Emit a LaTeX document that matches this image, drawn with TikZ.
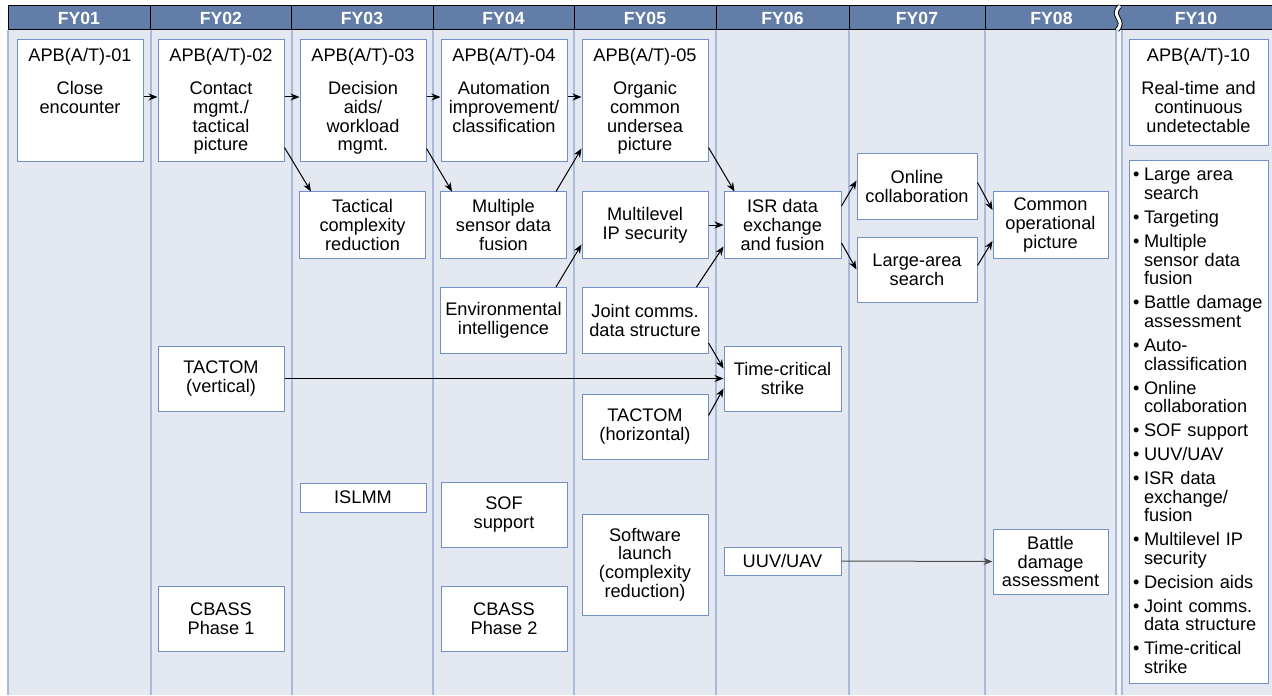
\documentclass[tikz,border=0pt]{standalone}
\usepackage{fontspec}
\setmainfont{Liberation Sans}
\usetikzlibrary{arrows.meta}
\definecolor{hdrblue}{HTML}{627DA8}
\definecolor{bgblue}{HTML}{E4E8F1}
\definecolor{lineblue}{HTML}{A9BADA}
\definecolor{boxblue}{HTML}{7090C6}
\newcommand{\listitem}[1]{\hangindent=5.5pt\hangafter=1\noindent\makebox[5.5pt][l]{\textbullet}#1\par\vspace{2.6pt}}
\newcommand{\nl}{\hfill\break}
\begin{document}
\begin{tikzpicture}[x=0.5pt,y=-0.5pt,
  every node/.style={font=\fontsize{9.1}{9.35}\selectfont},
  box/.style={draw=boxblue,fill=white,line width=0.5pt,align=center,inner sep=0pt,minimum width=63pt,minimum height=33pt},
  apb/.style={box,text width=63pt,text height=11pt,text depth=50pt},
  hdr/.style={text=white,font=\fontsize{8.8}{9}\selectfont\bfseries},
  arr/.style={-{Stealth[length=4.5pt,width=3.5pt]},line width=0.5pt}]
\useasboundingbox (0,0) rectangle (1272,695);
% background and year columns
\fill[bgblue] (8,30) rectangle (1272,695);
\fill[white!55!bgblue] (1116,30) rectangle (1122,695);
\foreach \x in {8,151,292,433,574,716,849,985,1116,1122}
  \draw[lineblue,line width=0.6pt] (\x,30) -- (\x,695);
% header
\draw[fill=hdrblue,line width=0.5pt] (8,6) rectangle (1272,30);
\foreach \x in {150,291.5,433,574,716,849,985}
  \draw[line width=0.5pt] (\x,6) -- (\x,30);
\draw[line width=2.4pt] (1120,6) .. controls (1109,16) and (1127,20) .. (1117,30);
\draw[white,line width=1.5pt] (1120,6) .. controls (1109,16) and (1127,20) .. (1117,30);
\foreach \x/\yr in {79/01,221/02,362/03,503.5/04,645/05,782.5/06,917/07,1051.5/08,1196/10}
  \node[hdr] (fy\yr) at (\x,18) {FY\yr};
% top row
\node[apb] (apb01) at (80,101) {APB(A/T)-01\\[7pt]Close\\encounter};
\node[apb] (apb02) at (221,101) {APB(A/T)-02\\[7pt]Contact\\mgmt./\\tactical\\picture};
\node[apb] (apb03) at (363,101) {APB(A/T)-03\\[7pt]Decision\\aids/\\workload\\mgmt.};
\node[apb] (apb04) at (504,101) {APB(A/T)-04\\[7pt]Automation\\improvement/\\classification};
\node[apb] (apb05) at (645,101) {APB(A/T)-05\\[7pt]Organic\\common\\undersea\\picture};
\node[apb,text width=69.5pt,text depth=42pt] (apb10) at (1198.5,93) {APB(A/T)-10\\[7pt]Real-time and\\continuous\\undetectable};
% middle rows
\node[box] (tcr) at (362.5,225) {Tactical\\complexity\\reduction};
\node[box] (msdf) at (503.5,225) {Multiple\\sensor data\\fusion};
\node[box] (mlip) at (645,225) {Multilevel\\IP security};
\node[box] (env) at (503.5,320.5) {Environmental\\intelligence};
\node[box] (jcds) at (645,320.5) {Joint comms.\\data structure};
\node[box,minimum width=58.5pt] (isr) at (782.5,225) {ISR data\\exchange\\and fusion};
\node[box,minimum width=60pt,minimum height=32.5pt] (onl) at (917,186.5) {Online\\collaboration};
\node[box,minimum width=60pt,minimum height=32.5pt] (las) at (917,269.5) {Large-area\\search};
\node[box,minimum width=57.5pt] (cop) at (1050.5,225) {Common\\operational\\picture};
% lower rows
\node[box,minimum height=32.5pt] (tacv) at (221,378.5) {TACTOM\\(vertical)};
\node[box,minimum width=58.5pt,minimum height=32.5pt] (tcs) at (782.5,378.5) {Time-critical\\strike};
\node[box,minimum height=32.5pt] (tach) at (645,426.5) {TACTOM\\(horizontal)};
\node[box,minimum height=14.5pt] (islmm) at (363,497.5) {ISLMM};
\node[box,minimum height=32.5pt] (sof) at (504,514.5) {SOF\\support};
\node[box,minimum height=50.5pt] (swl) at (645,564.5) {Software\\launch\\(complexity\\reduction)};
\node[box,minimum width=58.5pt,minimum height=14pt] (uuv) at (782.5,561) {UUV/UAV};
\node[box,minimum width=57.5pt,minimum height=32.5pt] (bda) at (1050.5,561.5) {Battle\\damage\\assessment};
\node[box,minimum height=32.5pt] (cb1) at (221,618.5) {CBASS\\Phase 1};
\node[box,minimum height=32.5pt] (cb2) at (504,618.5) {CBASS\\Phase 2};
% FY10 capability list
\node[box,align=left,text width=65.5pt,inner xsep=2pt,text height=10pt,text depth=251pt] (caps) at (1198.5,422) {%
\listitem{Large area\nl search}
\listitem{Targeting}
\listitem{Multiple\nl sensor data\nl fusion}
\listitem{\mbox{Battle damage}\nl assessment}
\listitem{Auto-\nl classification}
\listitem{Online\nl collaboration}
\listitem{SOF support}
\listitem{UUV/UAV}
\listitem{ISR data\nl exchange/\nl fusion}
\listitem{\mbox{Multilevel IP}\nl security}
\listitem{Decision aids}
\listitem{Joint comms.\nl \mbox{data structure}}
\listitem{Time-critical\nl strike}};
% connectors
\draw[arr] ([yshift=2pt]apb01.east) -- ([yshift=2pt]apb02.west);
\draw[arr] ([yshift=2pt]apb02.east) -- ([yshift=2pt]apb03.west);
\draw[arr] ([yshift=2pt]apb03.east) -- ([yshift=2pt]apb04.west);
\draw[arr] ([yshift=2pt]apb04.east) -- ([yshift=2pt]apb05.west);
\draw[arr] ([yshift=7.5pt]apb02.south east) -- ([xshift=6pt]tcr.north west);
\draw[arr] ([yshift=7pt]apb03.south east) -- ([xshift=6pt]msdf.north west);
\draw[arr] ([xshift=-5.5pt]msdf.north east) -- ([yshift=7pt]apb05.south west);
\draw[arr] ([xshift=-5.5pt]env.north east) -- ([yshift=7pt]mlip.south west);
\draw[arr] ([yshift=7.5pt]apb05.south east) -- ([xshift=5.5pt]isr.north west);
\draw[arr] (mlip.east) -- (isr.west);
\draw[arr] ([xshift=-6pt]jcds.north east) -- ([yshift=6pt]isr.south west);
\draw[arr] ([yshift=9.5pt]isr.east) -- ([yshift=3pt]onl.west);
\draw[arr] ([yshift=-9pt]isr.east) -- (las.west);
\draw[arr] ([yshift=2pt]onl.east) -- ([yshift=7.5pt]cop.west);
\draw[arr] ([yshift=2pt]las.east) -- ([yshift=-8pt]cop.west);
\draw[arr] ([yshift=5.5pt]jcds.south east) -- ([yshift=5pt]tcs.west);
\draw[arr] ([yshift=-11pt]tach.north east) -- ([yshift=-5pt]tcs.west);
\draw[arr] (tacv.east) -- (tcs.west);
\draw[arr,black!70] (uuv.east) -- (bda.west);
\end{tikzpicture}
\end{document}
